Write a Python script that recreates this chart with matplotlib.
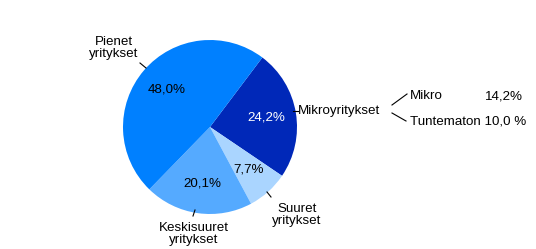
import matplotlib
matplotlib.use("Agg")
import matplotlib.pyplot as plt

plt.rcParams['font.family'] = ['Liberation Sans', 'DejaVu Sans']

categories = ["Mikroyritykset", "Suuret\nyritykset", "Keskisuuret\nyritykset", "Pienet\nyritykset"]
values = [24.2, 7.7, 20.1, 48.0]
colors = ["#0028B8", "#AAD5FF", "#55AAFF", "#0080FF"]
pct_colors = ["white", "black", "black", "black"]

sub_labels = ["Mikro", "Tuntematon"]
sub_values = ["14,2%", "10,0 %"]

W, H = 536, 249
fs = 9.6
fig = plt.figure(figsize=(W / 100, H / 100), dpi=100)
ax = fig.add_axes([0, 0, 1, 1])

cx, cy, r = 210, H - 127, 87
wedges, texts, autotexts = ax.pie(
    values, colors=colors, startangle=53, counterclock=False,
    center=(cx, cy), radius=r, autopct=lambda p: f"{p:.1f}%".replace(".", ","),
    pctdistance=0.66, wedgeprops=dict(linewidth=0),
    textprops=dict(fontsize=fs))
for t, c in zip(autotexts, pct_colors):
    t.set_color(c)

ax.set_xlim(0, W)
ax.set_ylim(0, H)
ax.set_aspect('equal')
ax.axis('off')

def yp(y):
    return H - y

# category labels with leader lines (pixel layout)
ax.plot([293, 298], [yp(111), yp(111)], color='black', lw=0.8)
ax.text(298, yp(111), categories[0], fontsize=fs, ha='left', va='center')

ax.plot([267, 271], [yp(192), yp(197)], color='black', lw=0.8)
ax.text(297, yp(215), categories[1], fontsize=fs, ha='center', va='center', linespacing=1.05)

ax.plot([195, 193], [yp(210), yp(216)], color='black', lw=0.8)
ax.text(194, yp(234), categories[2], fontsize=fs, ha='center', va='center', linespacing=1.05)

ax.plot([140, 146], [yp(63), yp(68)], color='black', lw=0.8)
ax.text(114, yp(48), categories[3], fontsize=fs, ha='center', va='center', linespacing=1.05)

# breakdown of Mikroyritykset
ax.plot([392, 407], [yp(105), yp(94)], color='black', lw=0.8)
ax.plot([392, 406], [yp(113), yp(121)], color='black', lw=0.8)
ax.text(410, yp(96), sub_labels[0], fontsize=fs, ha='left', va='center')
ax.text(523, yp(96), sub_values[0], fontsize=fs, ha='right', va='center')
ax.text(410, yp(121), sub_labels[1] + " " + sub_values[1], fontsize=fs, ha='left', va='center')

fig.savefig("out.png", dpi=100)
